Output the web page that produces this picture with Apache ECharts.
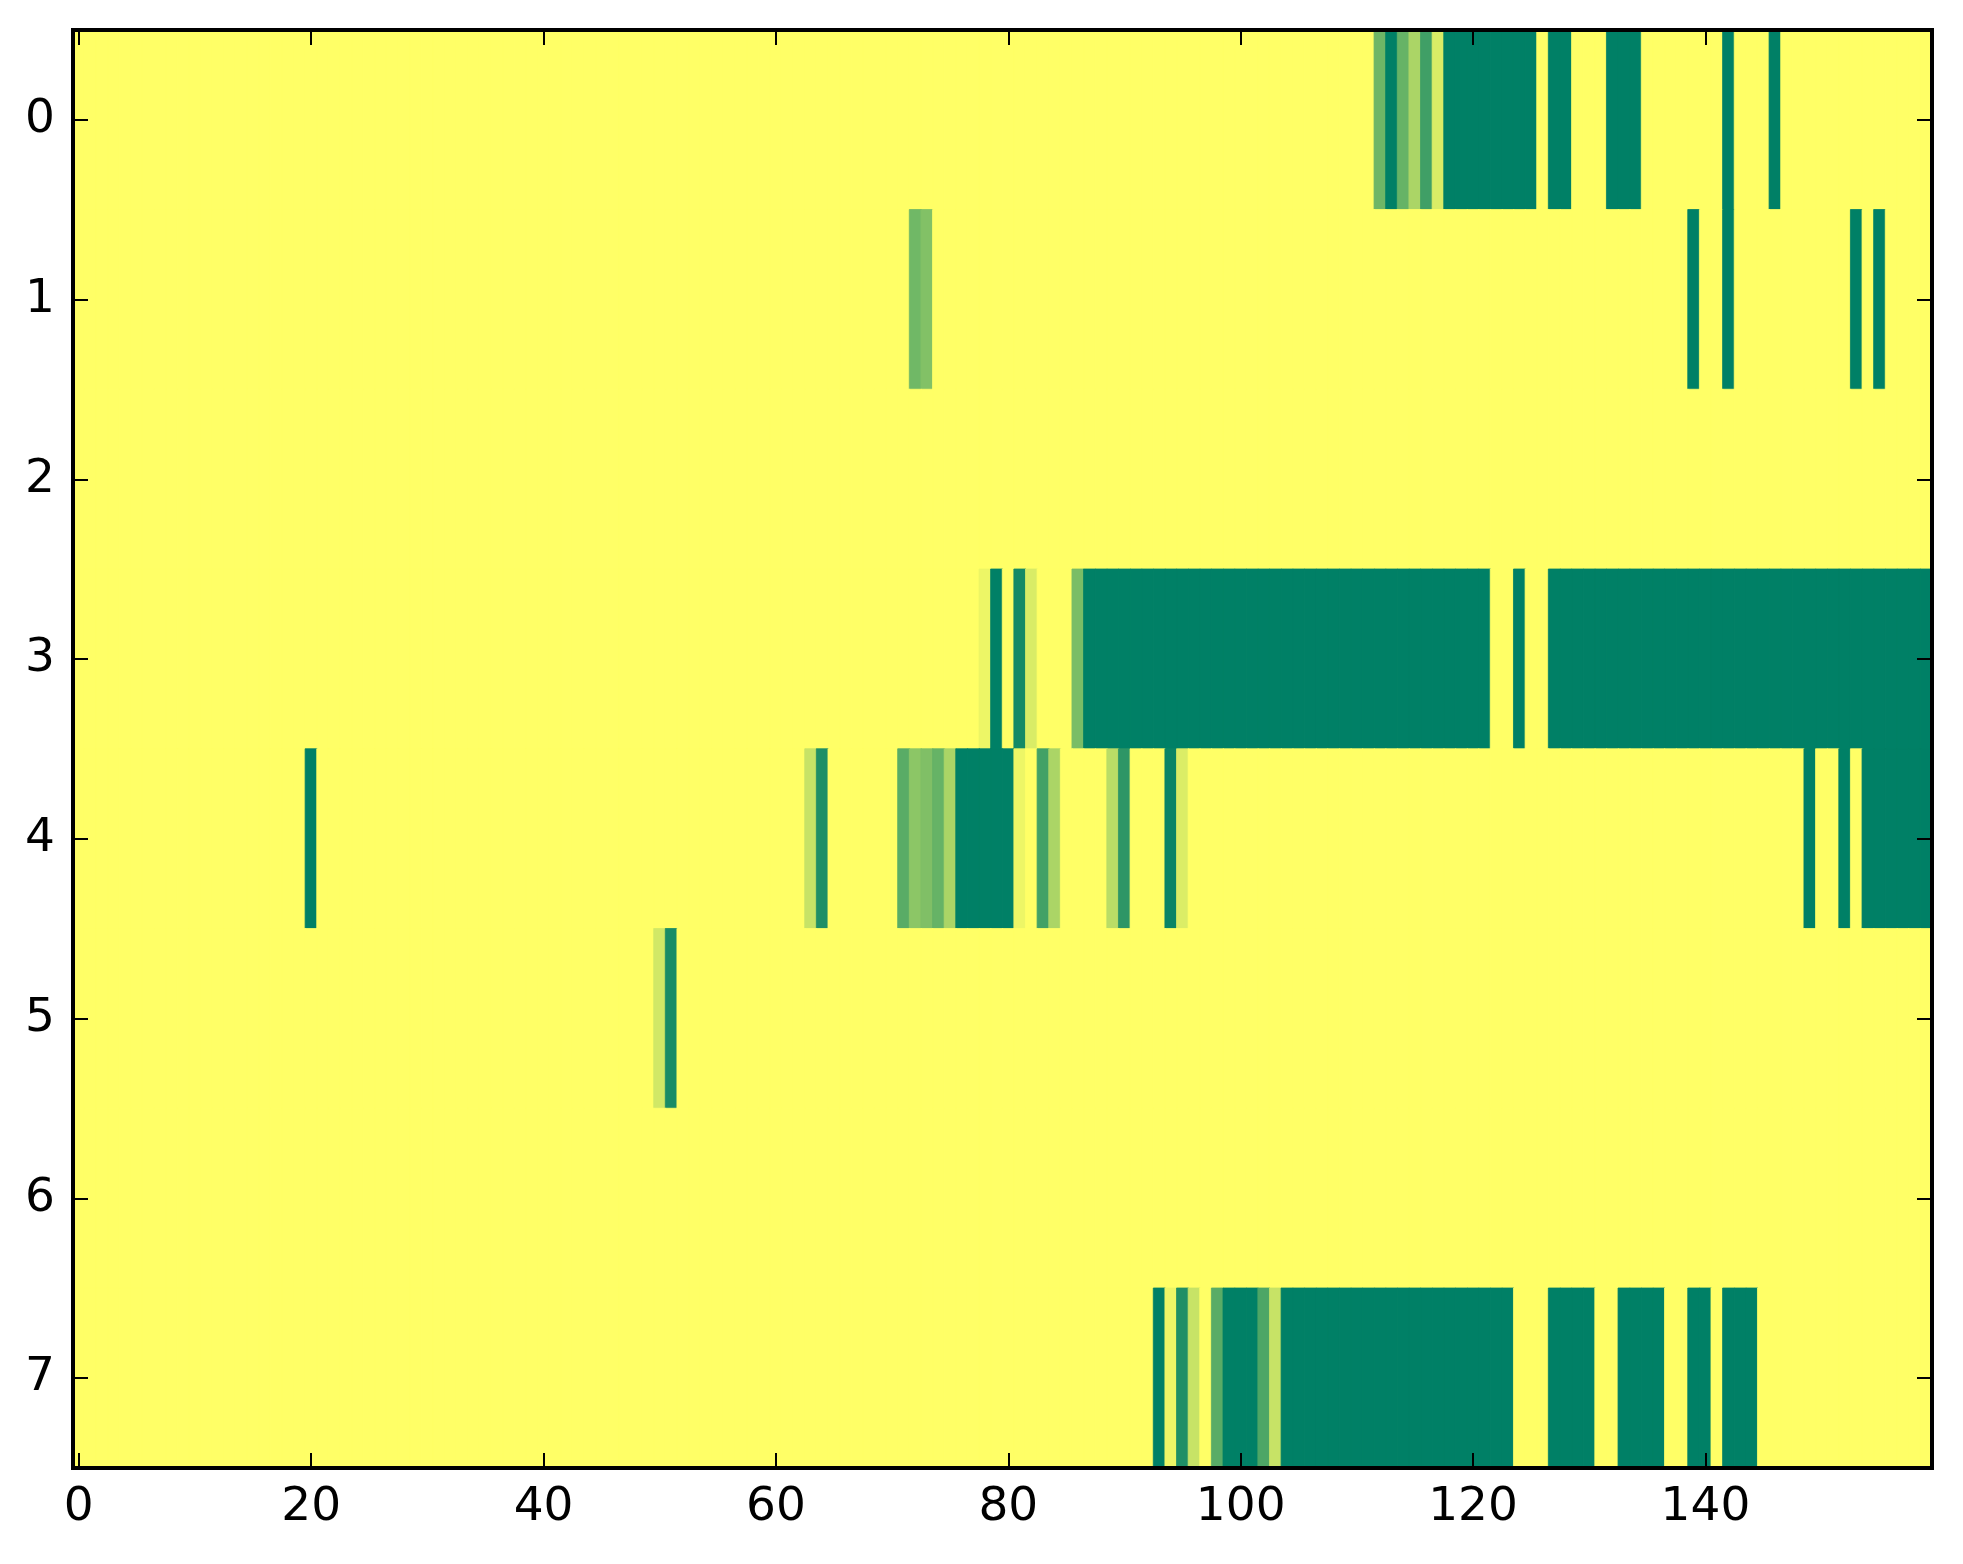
<!DOCTYPE html>
<html>
<head>
<meta charset="utf-8">
<script src="https://cdn.jsdelivr.net/npm/echarts@6/dist/echarts.min.js"></script>
<style>html,body{margin:0;padding:0;background:#fff;}#c{width:1963px;height:1564px;}</style>
</head>
<body>
<div id="c"></div>
<script>
// Column categories 0..159 and row categories 0..7
const nCols = 160;
const rowLabels = ['0','1','2','3','4','5','6','7'];
const xTickEvery = 20;

// Non-zero cell runs per row: [startCol, endCol, value] (all other cells are 0)
const row0 = [[112,112,0.57],[113,113,1],[114,114,0.6],[115,115,0.33],[116,116,0.75],[117,117,0.15],[118,125,1],[127,128,1],[132,134,1],[142,142,1],[146,146,1]];
const row1 = [[72,72,0.56],[73,73,0.49],[139,139,1],[142,142,1],[153,153,1],[155,155,1]];
const row2 = [];
const row3 = [[78,78,0.07],[79,79,1],[81,81,0.92],[82,82,0.15],[86,86,0.52],[87,121,1],[124,124,1],[127,159,1]];
const row4 = [[20,20,1],[63,63,0.22],[64,64,0.88],[71,71,0.65],[72,72,0.45],[73,73,0.5],[74,74,0.6],[75,75,0.33],[76,80,1],[81,81,0.07],[83,83,0.74],[84,84,0.33],[89,89,0.27],[90,90,0.82],[94,94,0.96],[95,95,0.14],[149,149,1],[152,152,1],[154,159,1]];
const row5 = [[50,50,0.18],[51,51,0.9]];
const row6 = [];
const row7 = [[93,93,1],[94,94,0.07],[95,95,0.88],[96,96,0.22],[98,98,0.65],[99,101,1],[102,102,0.7],[103,103,0.22],[104,123,1],[127,130,1],[133,136,1],[139,140,1],[142,144,1]];

const rows = [row0,row1,row2,row3,row4,row5,row6,row7];
const colCats = [];
for (let i = 0; i < nCols; i++) colCats.push(String(i));

// summer_r colour map: 0 -> (1,1,0.4) yellow, 1 -> (0,0.5,0.4) green
function summerR(v) {
  const r = Math.round(255 * (1 - v));
  const g = Math.round(255 * (1 - 0.5 * v));
  const b = Math.round(255 * 0.4);
  return 'rgb(' + r + ',' + g + ',' + b + ')';
}

const data = [];
rows.forEach((runs, r) => {
  const vals = new Array(nCols).fill(0);
  runs.forEach(([s, e, v]) => { for (let c = s; c <= e; c++) vals[c] = v; });
  vals.forEach((v, c) => {
    const col = summerR(v);
    data.push({value: [c, r, v], itemStyle: {color: col, borderColor: col, borderWidth: 0.8}});
  });
});

const font = 'DejaVu Sans';
const tickInterval = (i) => i % xTickEvery === 0;
const axisLine = {show: true, onZero: false, lineStyle: {color: '#000', width: 4, cap: 'square'}};
const tickStyle = {color: '#000', width: 2};

const chart = echarts.init(document.getElementById('c'));
chart.setOption({
  backgroundColor: '#fff',
  animation: false,
  grid: {left: 73, right: 31, top: 30, bottom: 96, containLabel: false},
  xAxis: [
    {type: 'category', data: colCats, position: 'bottom', z: 10, axisLine: axisLine,
     axisTick: {show: true, inside: true, length: 15, alignWithLabel: true, interval: tickInterval, lineStyle: tickStyle},
     axisLabel: {show: true, interval: tickInterval, margin: 16, fontSize: 47, fontFamily: font, color: '#000'},
     splitLine: {show: false}},
    {type: 'category', data: colCats, position: 'top', z: 10, axisLine: axisLine,
     axisTick: {show: true, inside: true, length: 15, alignWithLabel: true, interval: tickInterval, lineStyle: tickStyle},
     axisLabel: {show: false}, splitLine: {show: false}}
  ],
  yAxis: [
    {type: 'category', data: rowLabels, inverse: true, position: 'left', z: 10, axisLine: axisLine,
     axisTick: {show: true, inside: true, length: 15, alignWithLabel: true, lineStyle: tickStyle},
     axisLabel: {show: true, margin: 18, fontSize: 47, fontFamily: font, color: '#000'},
     splitLine: {show: false}},
    {type: 'category', data: rowLabels, inverse: true, position: 'right', z: 10, axisLine: axisLine,
     axisTick: {show: true, inside: true, length: 15, alignWithLabel: true, lineStyle: tickStyle},
     axisLabel: {show: false}, splitLine: {show: false}}
  ],
  series: [{
    type: 'heatmap', xAxisIndex: 0, yAxisIndex: 0, data: data, z: 1,
    emphasis: {disabled: true}, progressive: 0
  }]
});
</script>
</body>
</html>
